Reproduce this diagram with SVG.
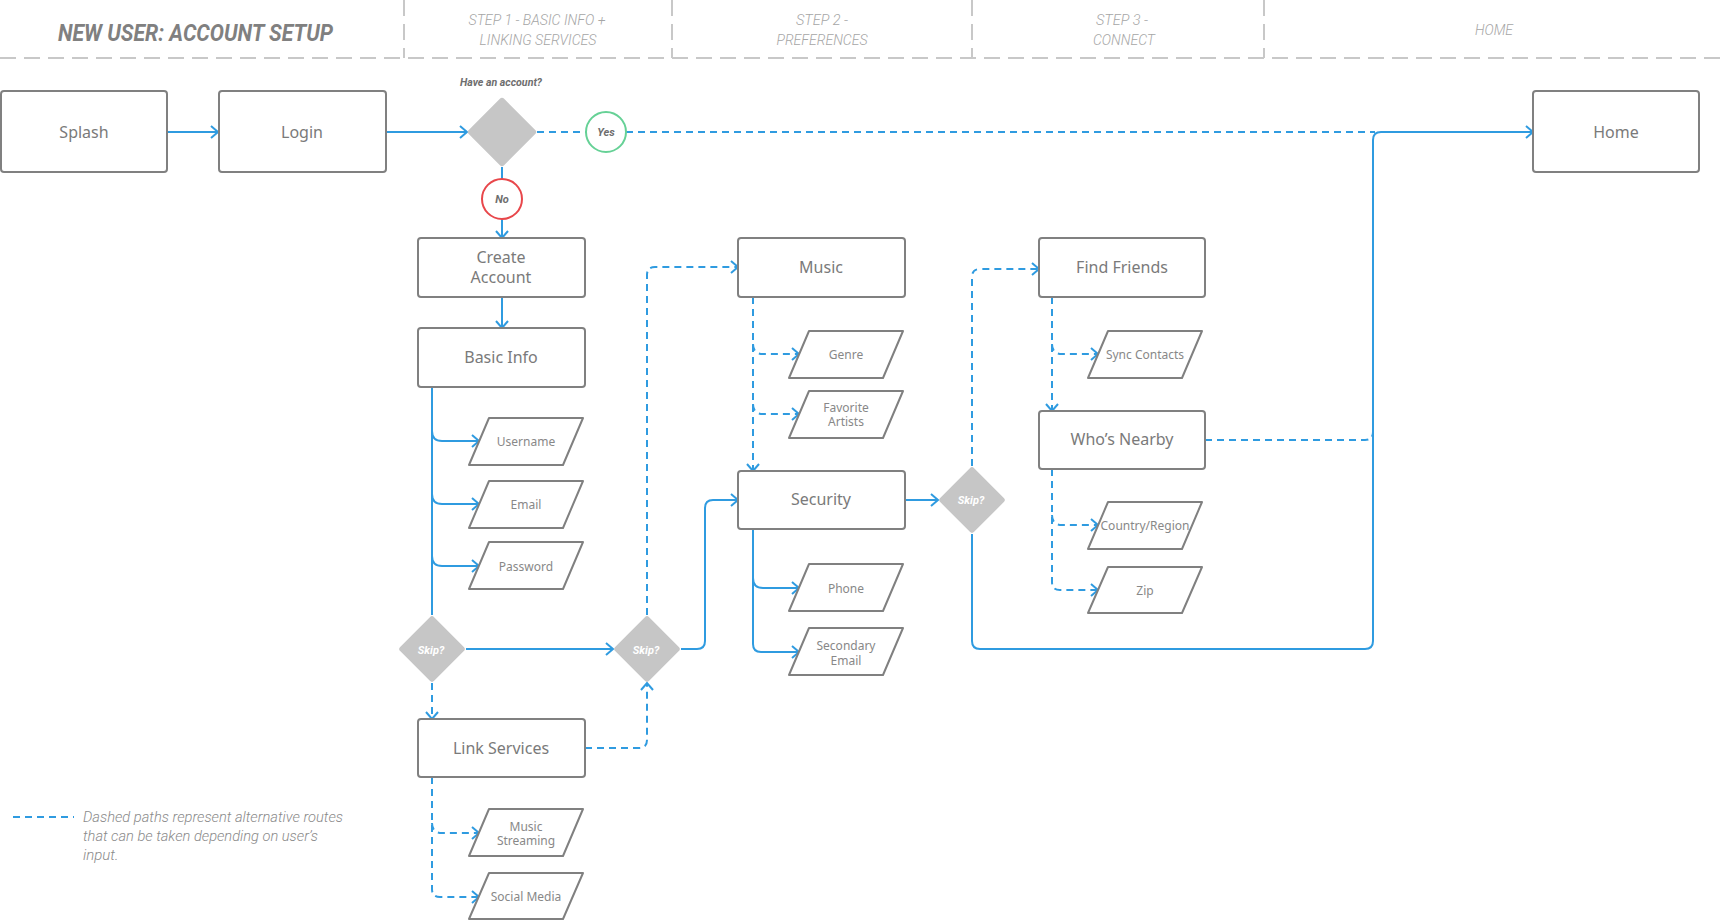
<svg xmlns="http://www.w3.org/2000/svg" width="1722" height="920" viewBox="0 0 1722 920">
<style>
.bg{fill:#ffffff}
.hdr{stroke:#c8c8c8;stroke-width:2;stroke-dasharray:16 8;fill:none}
.title{font-family:Roboto,"Liberation Sans",sans-serif;font-weight:700;font-style:italic;font-size:24px;fill:#808080}
.step{font-family:Roboto,"Liberation Sans",sans-serif;font-weight:300;font-style:italic;font-size:15px;fill:#a6a6a6;text-anchor:middle}
.box{fill:#ffffff;stroke:#808080;stroke-width:2}
.io{fill:#ffffff;stroke:#808080;stroke-width:2;stroke-linejoin:round}
.lbl{font-family:"Noto Sans","Open Sans",sans-serif;font-size:16px;fill:#7a7a7a;text-anchor:middle;dominant-baseline:central}
.sm{font-family:"Noto Sans","Open Sans",sans-serif;font-size:12px;fill:#888888;text-anchor:middle;dominant-baseline:central}
.dia{fill:#c6c6c6}
.skip{font-family:Roboto,"Liberation Sans",sans-serif;font-weight:700;font-style:italic;font-size:11px;fill:#ffffff;text-anchor:middle;dominant-baseline:central}
.q{font-family:Roboto,"Liberation Sans",sans-serif;font-weight:700;font-style:italic;font-size:11px;fill:#6e6e6e;text-anchor:middle;dominant-baseline:central}
.c{fill:none;stroke:#2f9be0;stroke-width:2}
.d{stroke-dasharray:7 5}
.legend{font-family:Roboto,"Liberation Sans",sans-serif;font-weight:300;font-style:italic;font-size:15px;fill:#8a8a8a}
</style>
<defs>
<marker id="ar" viewBox="-1 -1 10 14" refX="7" refY="6" markerWidth="10" markerHeight="14" markerUnits="userSpaceOnUse" orient="auto" overflow="visible">
<path d="M0,0 L7,6 L0,12" fill="none" stroke="#2f9be0" stroke-width="2"/>
</marker>
</defs>
<rect class="bg" x="0" y="0" width="1722" height="920"/>

<g id="header">
<line class="hdr" x1="0" y1="58" x2="1722" y2="58"/>
<line class="hdr" x1="404" y1="0" x2="404" y2="58"/>
<line class="hdr" x1="672" y1="0" x2="672" y2="58"/>
<line class="hdr" x1="972" y1="0" x2="972" y2="58"/>
<line class="hdr" x1="1264" y1="0" x2="1264" y2="58"/>
<text class="title" x="58" y="41" textLength="275" lengthAdjust="spacingAndGlyphs">NEW USER: ACCOUNT SETUP</text>
<text class="step" x="537" y="25" textLength="137" lengthAdjust="spacingAndGlyphs">STEP 1 - BASIC INFO +</text>
<text class="step" x="538" y="45" textLength="117" lengthAdjust="spacingAndGlyphs">LINKING SERVICES</text>
<text class="step" x="822" y="25" textLength="52" lengthAdjust="spacingAndGlyphs">STEP 2 -</text>
<text class="step" x="822" y="45" textLength="91" lengthAdjust="spacingAndGlyphs">PREFERENCES</text>
<text class="step" x="1122" y="25" textLength="52" lengthAdjust="spacingAndGlyphs">STEP 3 -</text>
<text class="step" x="1124" y="45" textLength="62" lengthAdjust="spacingAndGlyphs">CONNECT</text>
<text class="step" x="1494" y="35" textLength="38" lengthAdjust="spacingAndGlyphs">HOME</text>
</g>

<g id="connectors">
<path class="c" d="M167,132 H218" marker-end="url(#ar)"/>
<path class="c" d="M386,132 H467" marker-end="url(#ar)"/>
<path class="c d" d="M537,132 H586"/>
<path class="c d" d="M626,132 H1375"/>
<path class="c" d="M502,167 V179"/>
<path class="c" d="M502,219 V238" marker-end="url(#ar)"/>
<path class="c" d="M502,297 V328" marker-end="url(#ar)"/>
<path class="c" d="M432,387 V615"/>
<path class="c" d="M432,431 Q432,441 442,441 H479" marker-end="url(#ar)"/>
<path class="c" d="M432,494 Q432,504 442,504 H479" marker-end="url(#ar)"/>
<path class="c" d="M432,556 Q432,566 442,566 H479" marker-end="url(#ar)"/>
<path class="c" d="M466,649 H613" marker-end="url(#ar)"/>
<path class="c d" d="M432,683 V719" marker-end="url(#ar)"/>
<path class="c d" d="M585,748 H639 Q647,748 647,740 V683" marker-end="url(#ar)"/>
<path class="c d" d="M432,777 V889 Q432,897 440,897 H479" marker-end="url(#ar)"/>
<path class="c d" d="M432,823 Q432,833 442,833 H479" marker-end="url(#ar)"/>
<path class="c d" d="M647,615 V275 Q647,267 655,267 H738" marker-end="url(#ar)"/>
<path class="c" d="M681,649 H697 Q705,649 705,641 V508 Q705,500 713,500 H738" marker-end="url(#ar)"/>
<path class="c d" d="M753,297 V471" marker-end="url(#ar)"/>
<path class="c d" d="M753,344 Q753,354 763,354 H799" marker-end="url(#ar)"/>
<path class="c d" d="M753,404 Q753,414 763,414 H799" marker-end="url(#ar)"/>
<path class="c" d="M753,529 V644 Q753,652 761,652 H799" marker-end="url(#ar)"/>
<path class="c" d="M753,578 Q753,588 763,588 H799" marker-end="url(#ar)"/>
<path class="c" d="M905,500 H938" marker-end="url(#ar)"/>
<path class="c d" d="M972,466 V277 Q972,269 980,269 H1039" marker-end="url(#ar)"/>
<path class="c d" d="M1052,297 V411" marker-end="url(#ar)"/>
<path class="c d" d="M1052,344 Q1052,354 1062,354 H1098" marker-end="url(#ar)"/>
<path class="c d" d="M1052,469 V582 Q1052,590 1060,590 H1098" marker-end="url(#ar)"/>
<path class="c d" d="M1052,515 Q1052,525 1062,525 H1098" marker-end="url(#ar)"/>
<path class="c d" d="M1205,440 H1365 Q1373,440 1373,432"/>
<path class="c" d="M972,534 V641 Q972,649 980,649 H1365 Q1373,649 1373,641 V140 Q1373,132 1381,132 H1533" marker-end="url(#ar)"/>
</g>

<g id="splash"><rect class="box" x="1" y="91" width="166" height="81" rx="3"/><text class="lbl" x="84" y="132">Splash</text></g>
<g id="login"><rect class="box" x="219" y="91" width="167" height="81" rx="3"/><text class="lbl" x="302" y="132">Login</text></g>
<g id="have-account">
<rect class="dia" x="477" y="107" width="50" height="50" rx="3" transform="rotate(45 502 132)"/>
<text class="q" x="501" y="82" textLength="82" lengthAdjust="spacingAndGlyphs">Have an account?</text>
</g>
<g id="yes"><circle cx="606" cy="132" r="20" fill="#ffffff" stroke="#66d196" stroke-width="2"/><text class="q" x="606" y="132">Yes</text></g>
<g id="no"><circle cx="502" cy="199" r="20" fill="#ffffff" stroke="#e8474b" stroke-width="2"/><text class="q" x="502" y="199">No</text></g>
<g id="home"><rect class="box" x="1533" y="91" width="166" height="81" rx="3"/><text class="lbl" x="1616" y="132">Home</text></g>

<g id="create-account"><rect class="box" x="418" y="238" width="167" height="59" rx="3"/><text class="lbl" x="501" y="257">Create</text><text class="lbl" x="501" y="277">Account</text></g>
<g id="basic-info"><rect class="box" x="418" y="328" width="167" height="59" rx="3"/><text class="lbl" x="501" y="357">Basic Info</text></g>
<g id="username"><polygon class="io" points="489,418 583,418 563,465 469,465"/><text class="sm" x="526" y="441">Username</text></g>
<g id="email"><polygon class="io" points="489,481 583,481 563,528 469,528"/><text class="sm" x="526" y="504">Email</text></g>
<g id="password"><polygon class="io" points="489,542 583,542 563,589 469,589"/><text class="sm" x="526" y="566">Password</text></g>
<g id="skip1"><rect class="dia" x="408" y="625" width="48" height="48" rx="3" transform="rotate(45 432 649)"/><text class="skip" x="431" y="650">Skip?</text></g>
<g id="skip2"><rect class="dia" x="623" y="625" width="48" height="48" rx="3" transform="rotate(45 647 649)"/><text class="skip" x="646" y="650">Skip?</text></g>
<g id="link-services"><rect class="box" x="418" y="719" width="167" height="58" rx="3"/><text class="lbl" x="501" y="748">Link Services</text></g>
<g id="music-streaming"><polygon class="io" points="489,809 583,809 563,856 469,856"/><text class="sm" x="526" y="826">Music</text><text class="sm" x="526" y="840">Streaming</text></g>
<g id="social-media"><polygon class="io" points="489,873 583,873 563,919 469,919"/><text class="sm" x="526" y="896">Social Media</text></g>

<g id="music"><rect class="box" x="738" y="238" width="167" height="59" rx="3"/><text class="lbl" x="821" y="267">Music</text></g>
<g id="genre"><polygon class="io" points="809,331 903,331 883,378 789,378"/><text class="sm" x="846" y="354">Genre</text></g>
<g id="favorite-artists"><polygon class="io" points="809,391 903,391 883,438 789,438"/><text class="sm" x="846" y="407">Favorite</text><text class="sm" x="846" y="421">Artists</text></g>
<g id="security"><rect class="box" x="738" y="471" width="167" height="58" rx="3"/><text class="lbl" x="821" y="499">Security</text></g>
<g id="phone"><polygon class="io" points="809,564 903,564 883,611 789,611"/><text class="sm" x="846" y="588">Phone</text></g>
<g id="secondary-email"><polygon class="io" points="809,628 903,628 883,675 789,675"/><text class="sm" x="846" y="645">Secondary</text><text class="sm" x="846" y="660">Email</text></g>
<g id="skip3"><rect class="dia" x="948" y="476" width="48" height="48" rx="3" transform="rotate(45 972 500)"/><text class="skip" x="971" y="500">Skip?</text></g>

<g id="find-friends"><rect class="box" x="1039" y="238" width="166" height="59" rx="3"/><text class="lbl" x="1122" y="267">Find Friends</text></g>
<g id="sync-contacts"><polygon class="io" points="1108,331 1202,331 1182,378 1088,378"/><text class="sm" x="1145" y="354">Sync Contacts</text></g>
<g id="whos-nearby"><rect class="box" x="1039" y="411" width="166" height="58" rx="3"/><text class="lbl" x="1122" y="439">Who’s Nearby</text></g>
<g id="country-region"><polygon class="io" points="1108,502 1202,502 1182,549 1088,549"/><text class="sm" x="1145" y="525">Country/Region</text></g>
<g id="zip"><polygon class="io" points="1108,567 1202,567 1182,613 1088,613"/><text class="sm" x="1145" y="590">Zip</text></g>

<g id="legend">
<line class="c d" x1="13" y1="817" x2="74" y2="817"/>
<text class="legend" x="83" y="822" textLength="260" lengthAdjust="spacingAndGlyphs">Dashed paths represent alternative routes</text>
<text class="legend" x="83" y="841" textLength="235" lengthAdjust="spacingAndGlyphs">that can be taken depending on user’s</text>
<text class="legend" x="83" y="860">input.</text>
</g>
</svg>
